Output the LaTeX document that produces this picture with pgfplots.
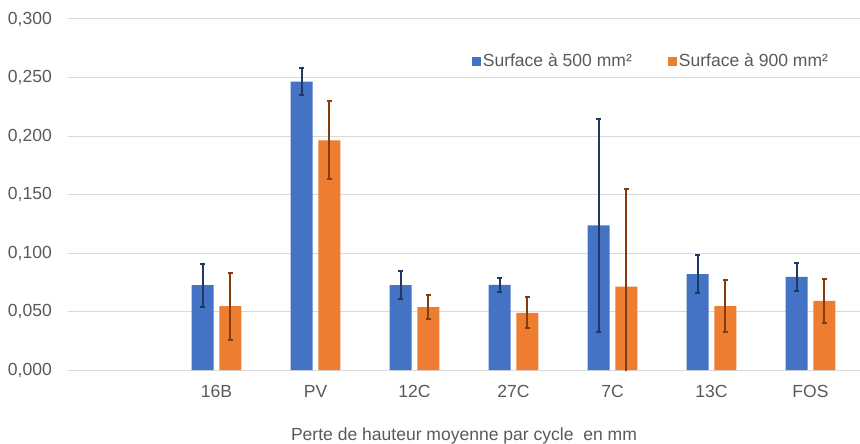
\documentclass[border=0pt]{standalone}
\usepackage{fontspec}
\setmainfont{Liberation Sans}
\usepackage{pgfplots}
\pgfplotsset{compat=1.18}
\definecolor{cblue}{HTML}{4472C4}
\definecolor{corange}{HTML}{ED7D31}
\definecolor{eblue}{HTML}{1F3864}
\definecolor{eorange}{HTML}{843C0C}
\definecolor{gridc}{HTML}{D9D9D9}
\definecolor{txt}{HTML}{595959}
\newcommand{\fs}{\fontsize{17.6}{21}\selectfont}
\begin{document}
\fs
\begin{tikzpicture}
\begin{axis}[
  scale only axis,
  width=792bp, height=351bp,
  xmin=-0.5, xmax=7.5,
  ymin=0, ymax=0.3,
  axis line style={draw=none},
  major tick length=0pt,
  tick style={draw=none},
  ytick={0,0.05,0.1,0.15,0.2,0.25,0.3},
  ymajorgrids,
  grid style={gridc, line width=1bp},
  xtick={1,2,3,4,5,6,7},
  xticklabels={16B,PV,12C,27C,7C,13C,FOS},
  ticklabel style={font=\fs, text=txt},
  /pgf/number format/fixed,
  /pgf/number format/fixed zerofill,
  /pgf/number format/precision=3,
  /pgf/number format/use comma,
  /pgf/number format/assume math mode=true,
  yticklabel style={inner sep=0pt, anchor=east},
  yticklabel shift=16bp,
  xticklabel style={inner sep=0pt, anchor=north},
  xticklabel shift=15bp,
  xlabel={Perte de hauteur moyenne par cycle\ \ en mm},
  xlabel style={at={(rel axis cs:0.5,0)}, anchor=base, yshift=-70bp, inner sep=0pt, text=txt, font=\fs},
  legend style={at={(rel axis cs:0.736,0.880)}, anchor=center, draw=none, fill=none,
    legend columns=2, font=\fs, text=txt,
    /tikz/every even column/.append style={column sep=34bp}, inner sep=0pt},
  legend cell align=left,
  clip=true,
]
\coordinate (bl) at (rel axis cs:0,0);
\coordinate (tr) at (rel axis cs:1,1);
\addplot[ybar, bar width=22bp, bar shift=0pt, fill=cblue, draw=none,
  legend image code/.code={\fill[cblue] (0bp,-4.5bp) rectangle (9bp,4.5bp);},
  error bars/.cd, y dir=both, y explicit,
  error bar style={draw=eblue, line width=2bp},
  error mark options={rotate=90, mark size=2.2bp, line width=2bp, draw=eblue}]
coordinates {
 (0.86,0.0725) +- (0,0.0185)
 (1.86,0.2465) +- (0,0.0118)
 (2.86,0.0725) +- (0,0.0117)
 (3.86,0.0728) +- (0,0.0060)
 (4.86,0.1236) +- (0,0.0910)
 (5.86,0.0820) +- (0,0.0164)
 (6.86,0.0795) +- (0,0.0118)
};
\addlegendentry{Surface à 500 mm²}
\addplot[ybar, bar width=22bp, bar shift=0pt, fill=corange, draw=none,
  legend image code/.code={\fill[corange] (0bp,-4.5bp) rectangle (9bp,4.5bp);},
  error bars/.cd, y dir=both, y explicit,
  error bar style={draw=eorange, line width=2bp},
  error mark options={rotate=90, mark size=2.2bp, line width=2bp, draw=eorange}]
coordinates {
 (1.14,0.0545) +- (0,0.0285)
 (2.14,0.1962) +- (0,0.0333)
 (3.14,0.0538) +- (0,0.0102)
 (4.14,0.0488) +- (0,0.0132)
 (5.14,0.0712) +- (0,0.0835)
 (6.14,0.0546) +- (0,0.0220)
 (7.14,0.0590) +- (0,0.0190)
};
\addlegendentry{Surface à 900 mm²}
\end{axis}
\pgfresetboundingbox
\path ([shift={(-68bp,-73bp)}]bl) rectangle ([shift={(0bp,19bp)}]tr);
\end{tikzpicture}
\end{document}
